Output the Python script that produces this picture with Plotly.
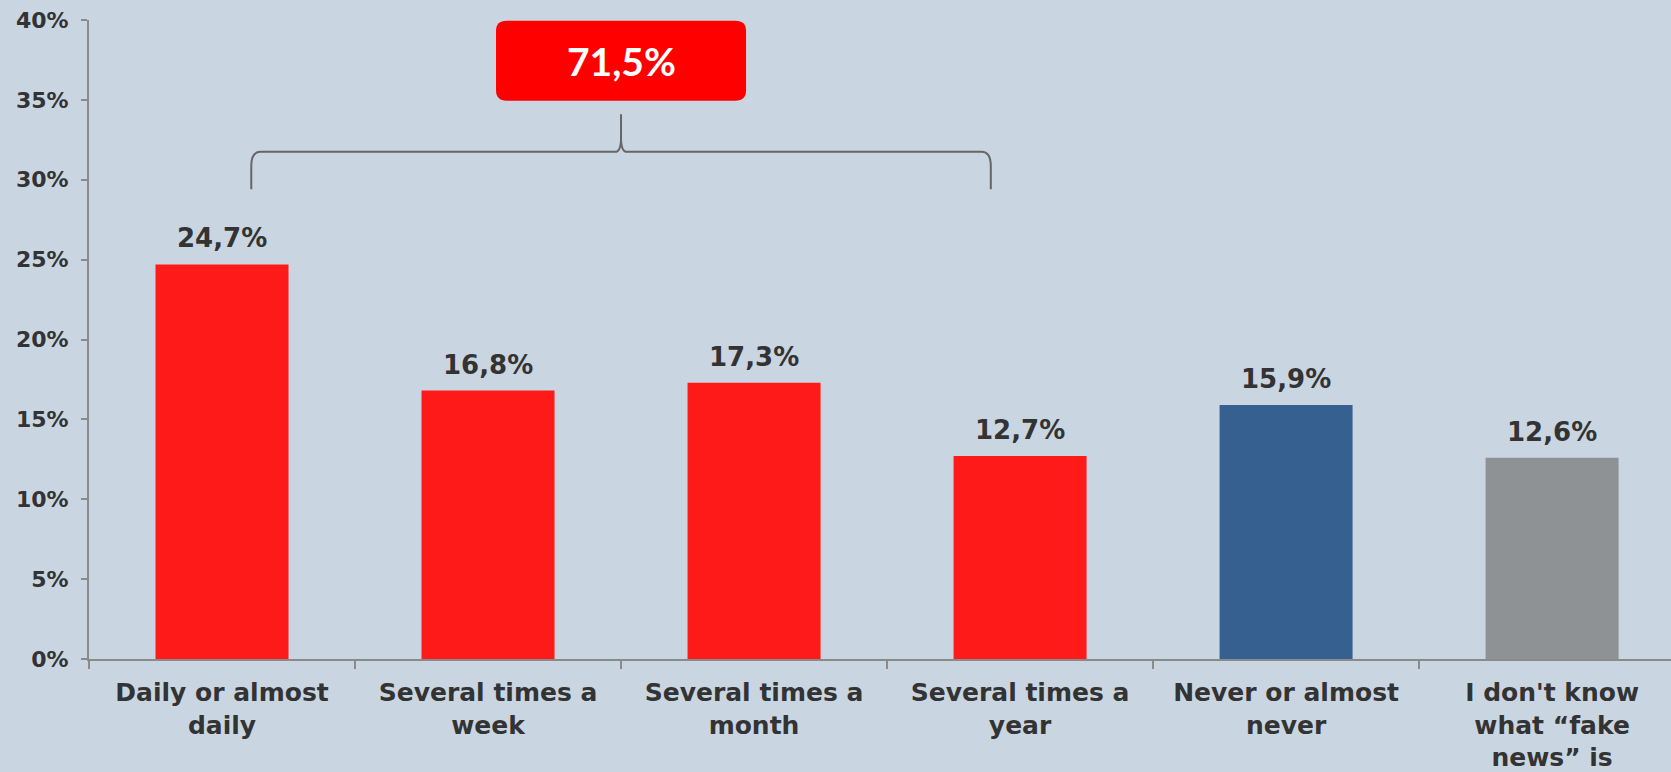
import plotly.graph_objects as go

categories = [
    "Daily or almost<br>daily",
    "Several times a<br>week",
    "Several times a<br>month",
    "Several times a<br>year",
    "Never or almost<br>never",
    "I don't know<br>what \u201cfake<br>news\u201d is",
]
values = [24.7, 16.8, 17.3, 12.7, 15.9, 12.6]
bar_colors = ["#FF1A1A", "#FF1A1A", "#FF1A1A", "#FF1A1A", "#35608F", "#8E9295"]
y_ticks = [0, 5, 10, 15, 20, 25, 30, 35, 40]
group_idx = [0, 1, 2, 3]

BG = "#C9D6E2"
TXT = "#333333"
AX = "#8A8A8A"
FONT = "DejaVu Sans"

def fmt(v):
    return f"{v:.1f}".replace(".", ",") + "%"

fig = go.Figure()
fig.add_trace(go.Bar(
    x=categories, y=values, marker=dict(color=bar_colors, line=dict(width=0)),
    width=0.5, hoverinfo="skip",
))

for c, v in zip(categories, values):
    fig.add_annotation(x=c, y=v, text=f"<b>{fmt(v)}</b>", showarrow=False,
                       yanchor="bottom", yshift=9,
                       font=dict(family=FONT, size=26, color=TXT))

# bracket over group
gmid = (group_idx[0] + group_idx[-1]) / 2
half = 1.39
yb, yh, yp = 29.4, 31.75, 34.1
xl, xr = gmid - half, gmid + half
path = (
    f"M {xl},{yb} L {xl},{yh-0.9} Q {xl},{yh} {xl+0.035},{yh} "
    f"L {gmid-0.022},{yh} Q {gmid},{yh} {gmid},{yh+0.9} L {gmid},{yp} "
    f"L {gmid},{yh+0.9} Q {gmid},{yh} {gmid+0.022},{yh} "
    f"L {xr-0.035},{yh} Q {xr},{yh} {xr},{yh-0.9} L {xr},{yb}"
)
fig.add_shape(type="path", path=path, xref="x", yref="y",
              line=dict(color="#666666", width=2))

# rounded red box
bx0, bx1, by0, by1 = gmid - 0.47, gmid + 0.47, 34.95, 39.95
rx, ry = 0.04, 0.65
box = (
    f"M {bx0+rx},{by0} L {bx1-rx},{by0} Q {bx1},{by0} {bx1},{by0+ry} "
    f"L {bx1},{by1-ry} Q {bx1},{by1} {bx1-rx},{by1} L {bx0+rx},{by1} "
    f"Q {bx0},{by1} {bx0},{by1-ry} L {bx0},{by0+ry} Q {bx0},{by0} {bx0+rx},{by0} Z"
)
fig.add_shape(type="path", path=box, xref="x", yref="y",
              fillcolor="#FF0000", line=dict(width=0))
total = sum(values[i] for i in group_idx)
fig.add_annotation(x=gmid, y=(by0 + by1) / 2, text=f"<b>{fmt(total)}</b>",
                   showarrow=False, font=dict(family="Lato", size=39, color="white"))

fig.update_layout(
    width=1671, height=772,
    margin=dict(l=89, r=0, t=20, b=113),
    paper_bgcolor=BG, plot_bgcolor=BG,
    showlegend=False,
    font=dict(family=FONT, color=TXT),
)
fig.update_xaxes(
    type="category", range=[-0.5, 5.447], tickson="boundaries",
    showline=True, linecolor=AX, linewidth=2,
    ticks="outside", ticklen=8, tickcolor=AX, tickwidth=2,
    ticklabelstandoff=10, automargin=False,
    tickfont=dict(family=FONT, size=25, color=TXT, weight="bold"),
    showgrid=False, zeroline=False,
)
fig.update_yaxes(
    range=[0, 40], tickvals=y_ticks, ticktext=[f"{t}%" for t in y_ticks],
    showline=True, linecolor=AX, linewidth=2,
    ticks="outside", ticklen=6, tickcolor=AX, tickwidth=2,
    ticklabelstandoff=8, automargin=False,
    tickfont=dict(family=FONT, size=22, color=TXT, weight="bold"),
    showgrid=False, zeroline=False,
)

fig.write_html(
    "out.html",
    config={"displayModeBar": False},
    post_script="document.body.style.margin='0';document.body.style.background='" + BG + "';",
)
